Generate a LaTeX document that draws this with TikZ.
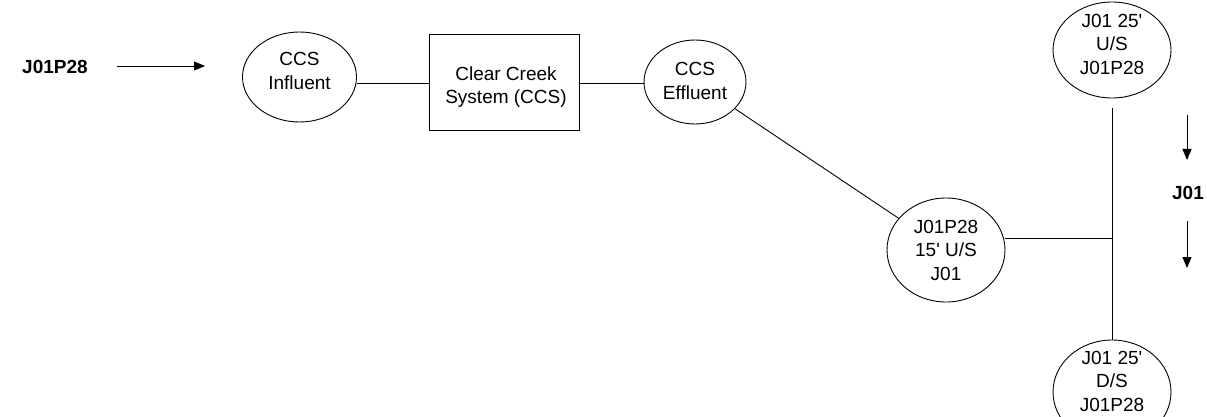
\documentclass[tikz,border=0pt]{standalone}
\usepackage{fontspec}
\setmainfont{Liberation Sans}
\usetikzlibrary{arrows.meta,shapes.geometric}
\begin{document}
\begin{tikzpicture}[x=1pt,y=-1pt,
  txt/.style={font=\fontsize{19}{23.5}\selectfont, align=center, inner sep=0pt},
  lbl/.style={txt, font=\fontsize{19}{23.5}\selectfont\bfseries},
  ell/.style={draw, ellipse, line width=0.9pt, inner sep=0pt, minimum width=114pt, minimum height=90pt},
  boxnode/.style={draw, rectangle, line width=0.9pt, inner sep=0pt, minimum width=150pt, minimum height=96pt},
  conn/.style={line width=0.9pt},
  arr/.style={line width=0.9pt, -{Triangle[length=11pt,width=9pt]}}]
\useasboundingbox (0,0) rectangle (1207,417);
% left label and arrow
\node[lbl] (src) at (55,67) {J01P28};
\coordinate (a1) at (117,66);
\coordinate (a2) at (205,66);
\draw[arr] (a1) -- (a2);
% top row
\node[ell] (inf) at (299.5,77) {};
\node[txt] (inft) at (299.5,71) {CCS\\Influent};
\node[boxnode] (ccs) at (504,82) {};
\node[txt] (ccst) at (506,87) {Clear Creek\\System (CCS)};
\node[ell, minimum width=102pt, minimum height=84pt] (eff) at (695,82) {};
\node[txt] (efft) at (695,81) {CCS\\Effluent};
\draw[conn] (inf.east |- 0,83) -- (ccs.west |- 0,83);
\draw[conn] (ccs.east |- 0,83) -- (eff.west |- 0,83);
% middle
\node[ell, minimum width=118pt, minimum height=104pt] (mid) at (946,250) {};
\node[txt] (midt) at (946,250) {J01P28\\15\textquotesingle{} U/S\\J01};
\draw[conn] (eff) -- (mid);
% right column
\node[ell, minimum width=118pt, minimum height=96pt] (us) at (1112,50) {};
\node[txt] (ust) at (1112,44) {J01 25\textquotesingle\\U/S\\J01P28};
\node[ell, minimum width=118pt, minimum height=104pt] (ds) at (1112,392) {};
\node[txt] (dst) at (1112,381) {J01 25\textquotesingle\\D/S\\J01P28};
\draw[conn] ([yshift=-10pt]us.south) -- (ds.north);
\coordinate (jn) at (1112,238);
\draw[conn] (mid.east |- jn) -- (jn);
% J01 label with arrows
\node[lbl] (jl) at (1188,193) {J01};
\coordinate (r1) at (1187,115);
\coordinate (r2) at (1187,160);
\coordinate (r3) at (1187,221);
\coordinate (r4) at (1187,268);
\draw[arr] (r1) -- (r2);
\draw[arr] (r3) -- (r4);
\end{tikzpicture}
\end{document}
